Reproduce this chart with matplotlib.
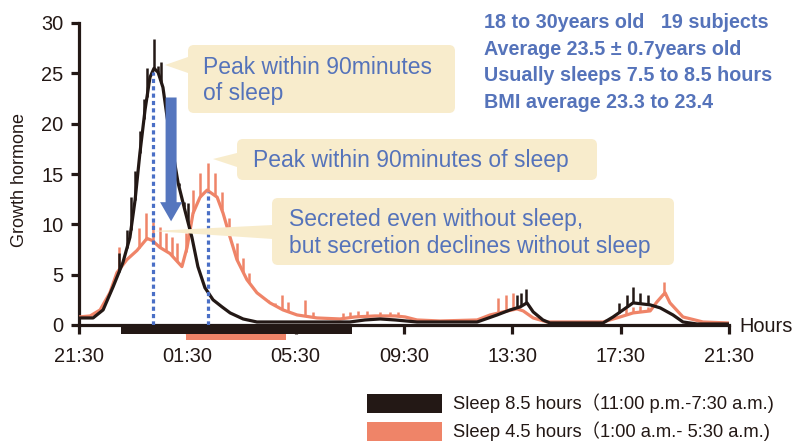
import matplotlib
matplotlib.use('Agg')
import matplotlib.pyplot as plt
import numpy as np
from matplotlib.patches import Rectangle, FancyBboxPatch, Polygon, FancyArrow
from matplotlib.transforms import IdentityTransform

# ---------------- data (hours since 21:30) ----------------
black_t = [0.00, 0.52, 0.89, 1.26, 1.62, 1.88, 2.07, 2.25, 2.44, 2.62, 2.77, 2.92,
           3.10, 3.25, 3.47, 3.66, 3.91, 4.17, 4.39, 4.65, 4.95, 5.28, 5.58, 6.06,
           6.57, 8.16, 10.00, 10.56, 11.12, 11.67, 12.48, 14.70, 15.44, 15.92, 16.29,
           16.54, 16.77, 17.13, 17.39, 19.35, 19.72, 20.09, 20.46, 21.09, 21.46,
           21.93, 22.30, 22.82, 24.00]
black_v = [0.7, 0.7, 1.5, 3.8, 6.2, 8.7, 12.4, 17.1, 21.4, 24.6, 25.5, 25.1,
           23.6, 20.7, 17.1, 14.1, 11.4, 8.7, 5.8, 3.7, 2.5, 1.8, 1.2, 0.6,
           0.3, 0.3, 0.3, 0.5, 0.6, 0.5, 0.3, 0.3, 1.0, 1.5, 1.8,
           2.2, 1.3, 0.5, 0.2, 0.2, 0.8, 1.5, 2.2, 2.0, 1.7,
           1.0, 0.3, 0.1, 0.1]

salmon_t = [0.00, 0.41, 0.78, 1.14, 1.40, 1.77, 2.14, 2.51, 2.70, 2.99, 3.36, 3.80,
            3.99, 4.21, 4.47, 4.73, 5.10, 5.32, 5.58, 5.83, 6.20, 6.57, 7.05, 7.53,
            8.05, 8.79, 9.64, 10.19, 10.93, 11.67, 12.04, 12.48, 13.33, 14.70, 15.18,
            15.66, 16.17, 16.40, 16.77, 17.28, 19.35, 19.98, 20.46, 21.09, 21.34,
            21.57, 21.64, 21.82, 22.30, 23.04, 24.00]
salmon_v = [0.8, 0.9, 1.5, 3.2, 5.2, 6.5, 7.4, 8.6, 8.4, 7.7, 7.1, 5.8,
            7.7, 11.1, 12.7, 13.4, 12.7, 11.1, 8.7, 6.5, 4.5, 3.2, 2.2, 1.5,
            1.0, 0.7, 0.6, 0.8, 0.9, 0.9, 0.8, 0.5, 0.4, 0.5, 1.0,
            1.3, 1.6, 1.4, 0.7, 0.3, 0.3, 0.8, 1.2, 1.4, 2.3,
            3.0, 3.2, 2.2, 0.8, 0.3, 0.2]

# error spikes (time, upper value)
black_err_t = [1.48, 1.77, 1.92, 2.07, 2.25, 2.40, 2.51, 2.77, 2.92, 3.03, 3.69, 3.88, 4.03,
               16.17, 16.32, 16.51, 19.94, 20.24, 20.46, 20.72, 21.01]
black_err_top = [7.2, 9.4, 12.7, 15.3, 19.3, 22.5, 25.5, 28.4, 25.7, 26.1, 14.1, 12.2, 12.1,
                 3.0, 3.2, 3.6, 2.2, 3.0, 3.8, 3.2, 3.0]
salmon_err_t = [1.48, 2.22, 2.47, 2.73, 2.99, 3.21, 3.43, 3.62, 3.95, 4.21, 4.47, 4.76,
                5.02, 5.28, 5.54, 5.83, 6.06, 6.28, 6.98, 7.24, 7.50, 7.72, 8.35, 8.64,
                9.75, 10.01, 10.30, 10.64, 11.12, 11.48, 11.78,
                15.47, 15.77, 16.03, 20.20, 20.46, 20.72, 21.01, 21.60]
salmon_err_top = [7.7, 9.6, 11.1, 10.2, 9.7, 9.1, 8.7, 8.1, 9.1, 13.4, 15.1, 16.1,
                  15.1, 13.2, 10.6, 8.1, 6.7, 5.2, 2.5, 2.2, 3.0, 2.3, 2.5, 1.3,
                  1.2, 1.3, 1.4, 1.4, 1.3, 1.3, 1.3,
                  2.7, 3.0, 3.2, 1.7, 1.8, 1.9, 1.8, 4.3]

# sleep periods as drawn (hours since 21:30)
sleep_long = (1.55, 10.08)
sleep_short = (3.95, 7.64)

# peaks marked by dotted lines
peak_t = [2.73, 4.76]
peak_v = [25.1, 13.2]

xtick_pos = [0, 4, 8, 12, 16, 20, 24]
xtick_labels = ['21:30', '01:30', '05:30', '09:30', '13:30', '17:30', '21:30']
ytick_pos = [0, 5, 10, 15, 20, 25, 30]

info_lines = ['18 to 30years old   19 subjects',
              'Average 23.5 \u00b1 0.7years old',
              'Usually sleeps 7.5 to 8.5 hours',
              'BMI average 23.3 to 23.4']
legend_labels = ['Sleep 8.5 hours\uff0811:00 p.m.-7:30 a.m.)',
                 'Sleep 4.5 hours\uff081:00 a.m.- 5:30 a.m.)']

# ---------------- style ----------------
BLACK = '#231815'
SALMON = '#EF8468'
BLUE_TXT = '#5573BA'
BLUE_DOT = '#4A6FC6'
BLUE_ARROW = '#5576BE'
BEIGE = '#F8ECCC'
FONT = ['Liberation Sans', 'Noto Sans CJK JP', 'DejaVu Sans']

plt.rcParams['font.family'] = FONT

W, H = 792, 442
fig = plt.figure(figsize=(W / 100, H / 100), dpi=100)
ax = fig.add_axes([79 / W, (H - 325) / H, 650 / W, 302 / H])
ax.set_xlim(0, 24)
ax.set_ylim(0, 30)
for s in ['top', 'right']:
    ax.spines[s].set_visible(False)
for s in ['left', 'bottom']:
    ax.spines[s].set_linewidth(2.3)
    ax.spines[s].set_color(BLACK)
ax.set_xticks(xtick_pos)
ax.set_xticklabels(xtick_labels)
ax.set_yticks(ytick_pos)
ax.tick_params(axis='both', direction='out', width=2.3, color=BLACK,
               labelsize=14.4, labelcolor=BLACK)
ax.tick_params(axis='x', length=6.5, pad=9)
ax.tick_params(axis='y', length=6, pad=5)

TI = IdentityTransform()


def P(x, y):
    return (x, H - y)


# annotation boxes (pixel coords, top-left origin)
boxes = [
    (188, 45, 455, 113, [(188, 57), (165, 65), (188, 73)]),
    (237, 139, 597, 180, [(237, 153), (213, 159), (237, 167)]),
    (272, 198, 674, 265, [(273, 225), (152, 231), (273, 239)]),
]
for x0, y0, x1, y1, wedge in boxes:
    bb = FancyBboxPatch(P(x0 + 5, y1 - 5), (x1 - x0) - 10, (y1 - y0) - 10,
                        boxstyle='round,pad=5,rounding_size=6', transform=TI,
                        facecolor=BEIGE, edgecolor='none', zorder=1)
    fig.add_artist(bb)
    fig.add_artist(Polygon([P(*p) for p in wedge], closed=True, transform=TI,
                           facecolor=BEIGE, edgecolor='none', zorder=1))

# curves
ax.plot(salmon_t, salmon_v, color=SALMON, lw=2.3, zorder=3, solid_joinstyle='round')
ax.plot(black_t, black_v, color=BLACK, lw=2.3, zorder=4, solid_joinstyle='round')
ax.vlines(salmon_err_t, np.interp(salmon_err_t, salmon_t, salmon_v), salmon_err_top,
          color=SALMON, lw=1.8, zorder=3)
ax.vlines(black_err_t, np.interp(black_err_t, black_t, black_v), black_err_top,
          color=BLACK, lw=1.8, zorder=4)

# dotted peak markers
for t, v in zip(peak_t, peak_v):
    ax.plot([t, t], [0, v], color=BLUE_DOT, lw=2.3, linestyle=(0, (1.3, 1.0)), zorder=5)

# arrow
ax.add_patch(FancyArrow(3.40, 22.6, 0, -12.3, width=11 / 27.08, head_width=22 / 27.08,
                        head_length=1.9, length_includes_head=True,
                        facecolor=BLUE_ARROW, edgecolor='none', zorder=6))

# sleep bars
ax.add_patch(Rectangle((sleep_long[0], -0.85), sleep_long[1] - sleep_long[0], 0.85,
                       facecolor=BLACK, edgecolor='none', clip_on=False, zorder=6))
ax.add_patch(Rectangle((sleep_short[0], -1.5), sleep_short[1] - sleep_short[0], 0.65,
                       facecolor=SALMON, edgecolor='none', clip_on=False, zorder=6))

# texts
def ftext(x, y, s, **kw):
    fig.text(x / W, 1 - y / H, s, **kw)

ann = dict(fontsize=16.5, color=BLUE_TXT, va='baseline', ha='left', zorder=7)
ftext(203, 74, 'Peak within 90minutes', **ann)
ftext(203, 100, 'of sleep', **ann)
ftext(253, 167, 'Peak within 90minutes of sleep', **ann)
ftext(289, 226, 'Secreted even without sleep,', **ann)
ftext(289, 253, 'but secretion declines without sleep', **ann)

for i, line in enumerate(info_lines):
    ftext(484, 28 + i * 26.7, line, fontsize=14.2, fontweight='bold', color=BLUE_TXT,
          va='baseline', ha='left')

ftext(20, 180, 'Growth hormone', fontsize=13, rotation=90, ha='center', va='center',
      color=BLACK)
ftext(739, 327, 'Hours', fontsize=14.4, ha='left', va='center', color=BLACK)

# legend
for i, (lab, col) in enumerate(zip(legend_labels, [BLACK, SALMON])):
    ytop = 394 + i * 28
    fig.add_artist(Rectangle(P(367, ytop + 18.5), 75, 18.5, transform=TI,
                             facecolor=col, edgecolor='none'))
    ftext(453, 409 + i * 28, lab, fontsize=13.2, color=BLACK, va='baseline', ha='left')

fig.savefig('out.png', dpi=100)
